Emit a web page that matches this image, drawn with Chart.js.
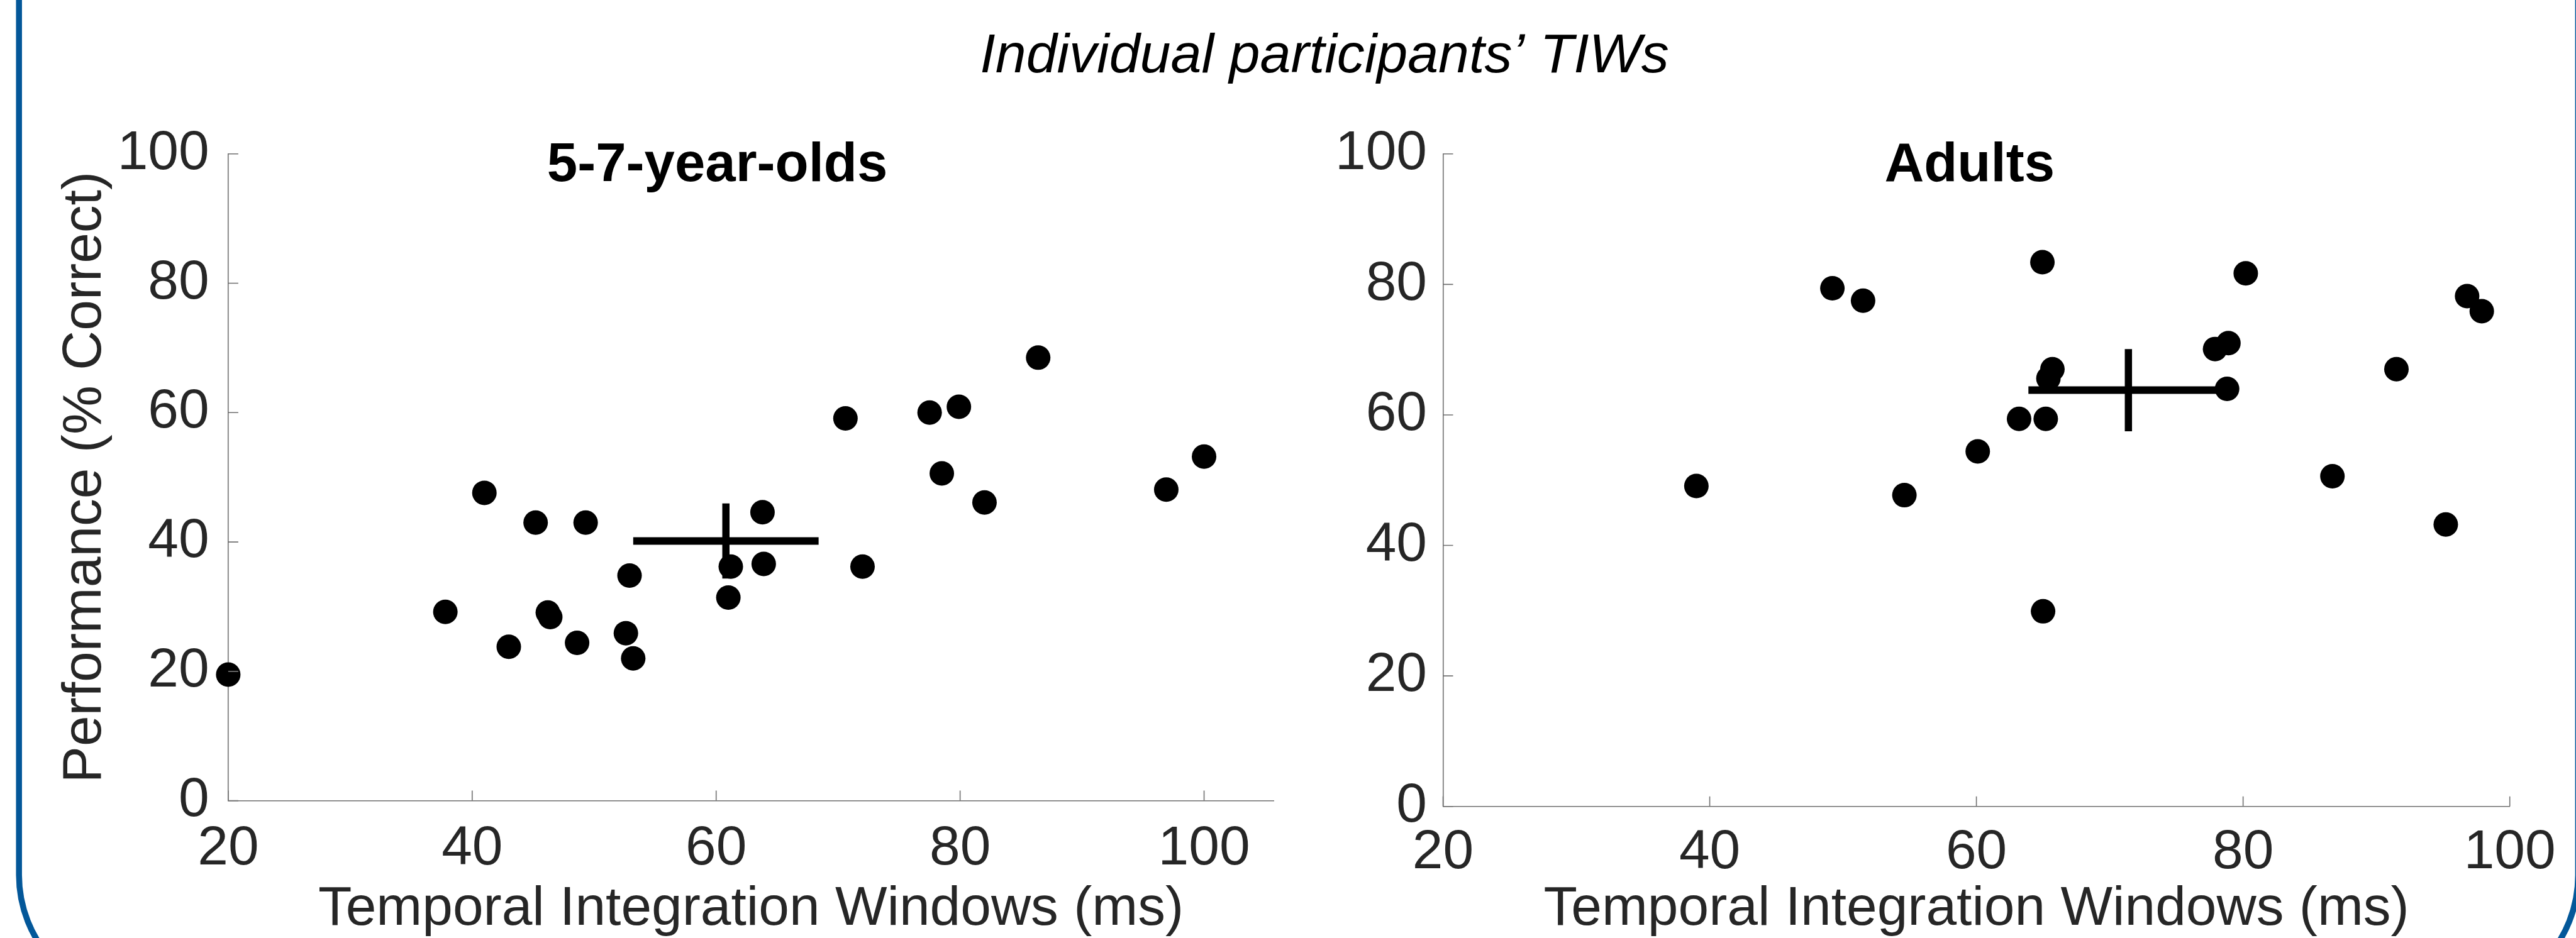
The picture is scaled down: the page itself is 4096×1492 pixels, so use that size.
<!DOCTYPE html>
<html><head><meta charset="utf-8">
<script src="https://cdn.jsdelivr.net/npm/chart.js@4.4.1/dist/chart.umd.min.js"></script>
<style>html,body{margin:0;padding:0;background:#fff;overflow:hidden;width:4096px;height:1492px}
canvas{position:absolute;left:0;top:0}</style></head>
<body>
<canvas id="c1" width="4096" height="1492"></canvas>
<canvas id="c2" width="4096" height="1492"></canvas>
<script>
// ---- data ----
const figureTitle = 'Individual participants\u2019 TIWs';
const panelTitles = ['5-7-year-olds', 'Adults'];
const xAxisLabel = 'Temporal Integration Windows (ms)';
const yAxisLabel = 'Performance (% Correct)';
const xTicks = [20, 40, 60, 80, 100];
const yTicks = [0, 20, 40, 60, 80, 100];

const childX = [70.6, 77.5, 79.9, 86.4, 100.0, 78.5, 41.0, 45.2, 49.3, 63.8, 82.0, 96.9, 52.9, 61.2, 63.9, 72.0, 61.0, 37.8, 46.2, 46.4, 43.0, 48.6, 52.6, 53.2, 20.0];
const childY = [59.1, 60.0, 60.9, 68.5, 53.2, 50.6, 47.6, 43.0, 43.0, 44.6, 46.1, 48.1, 34.8, 36.2, 36.6, 36.2, 31.4, 29.2, 29.1, 28.4, 23.8, 24.4, 25.9, 22.0, 19.5];
const adultX = [64.95, 49.2, 51.5, 80.2, 96.8, 97.9, 77.9, 78.9, 65.7, 65.4, 78.8, 91.5, 63.2, 65.2, 60.1, 86.7, 39.0, 54.6, 65.0, 95.2];
const adultY = [83.4, 79.4, 77.5, 81.7, 78.2, 75.9, 70.1, 71.0, 67.0, 65.6, 64.0, 67.0, 59.4, 59.4, 54.4, 50.6, 49.1, 47.7, 29.9, 43.2];
// group means and error half-widths [child, adult]
const meanX = [60.8, 71.4];
const meanY = [40.15, 63.8];
const errX = [7.6, 7.5];
const errY = [5.8, 6.3];
const xMax = [105.7, 100];

const FONT = '"Liberation Sans", Arial, Helvetica, sans-serif';
const TXT = '#262626';
const AX = '#707070';

function pts(xs, ys){ return xs.map((x,i)=>({x:x, y:ys[i]})); }

const inwardTicks = {
  id: 'inwardTicks',
  afterDraw(chart, args, o) {
    const ctx = chart.ctx, xs = chart.scales.x, ys = chart.scales.y, a = chart.chartArea;
    ctx.save();
    ctx.strokeStyle = AX; ctx.lineWidth = 1.6;
    ctx.beginPath();
    xs.ticks.forEach(t => { const p = xs.getPixelForValue(t.value); ctx.moveTo(p, a.bottom); ctx.lineTo(p, a.bottom - o.len); });
    ys.ticks.forEach(t => { const p = ys.getPixelForValue(t.value); ctx.moveTo(a.left, p); ctx.lineTo(a.left + o.len, p); });
    ctx.stroke();
    ctx.restore();
  }
};

const texts = {
  id: 'texts',
  afterDraw(chart, args, o) {
    const ctx = chart.ctx;
    ctx.save();
    ctx.fillStyle = '#000';
    ctx.textBaseline = 'alphabetic';
    ctx.textAlign = 'center';
    ctx.font = 'bold 87px ' + FONT;
    ctx.fillText(o.title, o.titleX, o.titleY);
    if (o.sup) {
      ctx.font = 'italic 88px ' + FONT;
      ctx.fillText(figureTitle, 2106, 114.7);
      // blue frame
      ctx.strokeStyle = '#035799';
      ctx.lineWidth = 9.5;
      const L = 30.2, R = 4099.4, r = 199.4, cy = 1392, B = cy + r;
      ctx.beginPath();
      ctx.moveTo(L, -20);
      ctx.lineTo(L, cy);
      ctx.arc(L + r, cy, r, Math.PI, Math.PI/2, true);
      ctx.lineTo(R - r, B);
      ctx.arc(R - r, cy, r, Math.PI/2, 0, true);
      ctx.lineTo(R, -20);
      ctx.stroke();
    }
    ctx.restore();
  }
};

function makeChart(id, idx, xs, ys, geo) {
  const tickFont = {family: FONT, size: 87.5, lineHeight: 1};
  const mx = meanX[idx], my = meanY[idx], ex = errX[idx], ey = errY[idx];
  return new Chart(document.getElementById(id), {
    type: 'scatter',
    data: {
      datasets: [
        {data: pts(xs, ys), pointRadius: 19.5, pointHoverRadius: 19.5, pointBackgroundColor: '#000', pointBorderWidth: 0, clip: false},
        {data: [{x: mx - ex, y: my}, {x: mx + ex, y: my}], showLine: true, borderColor: '#000', borderWidth: 12, pointRadius: 0, borderCapStyle: 'butt', clip: false},
        {data: [{x: mx, y: my - ey}, {x: mx, y: my + ey}], showLine: true, borderColor: '#000', borderWidth: 11.5, pointRadius: 0, borderCapStyle: 'butt', clip: false}
      ]
    },
    options: {
      responsive: false, animation: false, devicePixelRatio: 1,
      layout: {padding: {left: geo.padL, right: 4096 - geo.right, top: geo.top, bottom: 0}},
      plugins: {legend: {display: false}, tooltip: {enabled: false},
        inwardTicks: {len: 16},
        texts: {title: panelTitles[idx], titleX: geo.titleX, titleY: 288.2, sup: idx === 0}},
      scales: {
        x: {type: 'linear', min: 20, max: xMax[idx],
          afterFit: s => { s.height = 1492 - geo.bottom; },
          afterBuildTicks: s => { s.ticks = xTicks.map(v => ({value: v})); },
          grid: {display: true, drawOnChartArea: false, drawTicks: false},
          border: {display: true, color: AX, width: 1.6},
          ticks: {font: tickFont, color: TXT, padding: geo.xPad, maxRotation: 0, autoSkip: false},
          title: {display: true, text: xAxisLabel, color: TXT, font: tickFont, padding: {top: 0, bottom: 1.5}}
        },
        y: {type: 'linear', min: 0, max: 100,
          afterFit: s => { s.width = geo.yW; },
          afterBuildTicks: s => { s.ticks = yTicks.map(v => ({value: v})); },
          grid: {display: true, drawOnChartArea: false, drawTicks: false},
          border: {display: true, color: AX, width: 1.6},
          ticks: {font: tickFont, color: TXT, padding: geo.yPad, autoSkip: false},
          title: {display: geo.yTitle, text: yAxisLabel, color: TXT, font: tickFont, padding: {top: 92, bottom: 0}}
        }
      }
    },
    plugins: [inwardTicks, texts]
  });
}

makeChart('c1', 0, childX, childY, {padL: 0, yW: 362.9, right: 2025.1, top: 244.8, bottom: 1273.6, xPad: 34, yPad: 30.2, yTitle: true, titleX: 1140.6});
makeChart('c2', 1, adultX, adultY, {padL: 1994.5, yW: 300, right: 3990.7, top: 244.8, bottom: 1282.7, xPad: 30.5, yPad: 25.5, yTitle: false, titleX: 3131.7});
</script>
</body></html>
